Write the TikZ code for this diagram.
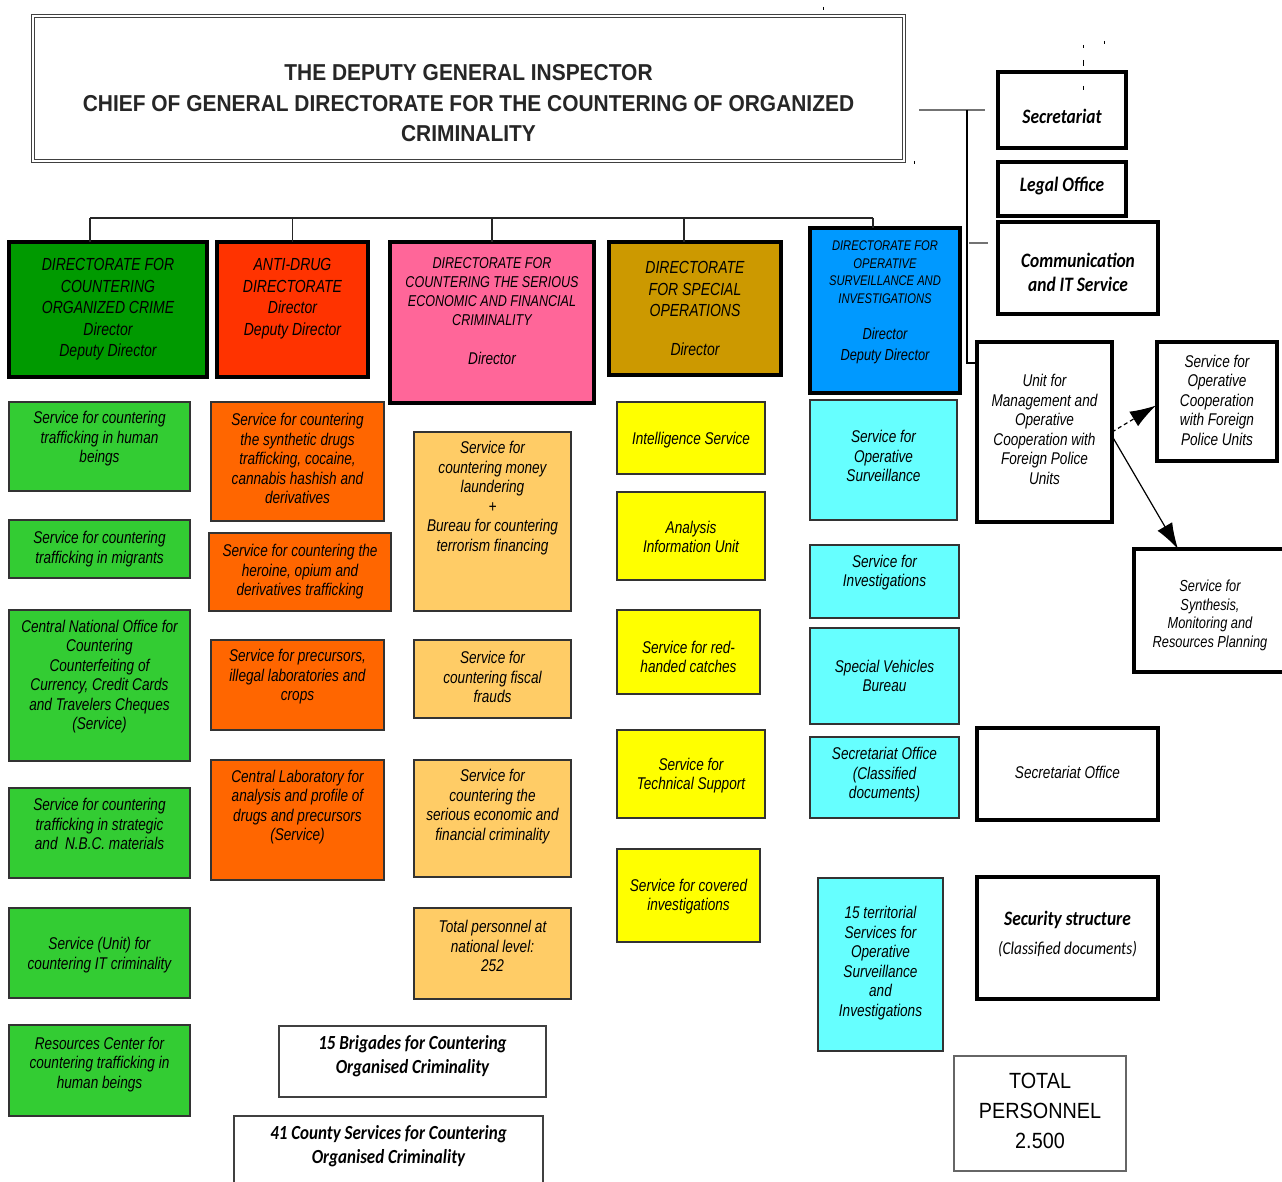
\documentclass[tikz,border=0pt]{standalone}
\usepackage{fontspec}
\setmainfont{Liberation Sans}
\newfontfamily\narf[FakeStretch=0.8]{Liberation Sans}
\newfontfamily\titf[FakeStretch=0.9]{Liberation Sans}
\newfontfamily\titbf[FakeStretch=0.91]{Liberation Sans}
\newfontfamily\calfont[FakeStretch=0.85]{Carlito}
\usetikzlibrary{arrows.meta}
\definecolor{cDG}{HTML}{009A00}
\definecolor{cR}{HTML}{FF3300}
\definecolor{cP}{HTML}{FF6699}
\definecolor{cGo}{HTML}{CC9900}
\definecolor{cB}{HTML}{0099FF}
\definecolor{cG}{HTML}{33CC33}
\definecolor{cO}{HTML}{FF6600}
\definecolor{cL}{HTML}{FFCC66}
\definecolor{cY}{HTML}{FFFF00}
\definecolor{cC}{HTML}{66FFFF}
\tikzset{
 ttl/.style={draw=black!75, double=white, double distance=2.5pt, line width=1pt, outer sep=0pt, inner sep=0pt},
 ttlt/.style={align=center, inner sep=0pt, text=black!85, font=\titbf\bfseries\fontsize{23}{30.5}\selectfont},
 dir/.style={draw=black, line width=4.5pt, outer sep=0pt, inner sep=0pt},
 dirt/.style={align=center, inner sep=0pt, font=\narf\itshape\fontsize{17.5}{21.5}\selectfont},
 dirp/.style={dir},
 dirpt/.style={align=center, inner sep=0pt, font=\narf\itshape\fontsize{15.7}{19}\selectfont},
 dirb/.style={dir},
 dirbt/.style={align=center, inner sep=0pt, font=\narf\itshape\fontsize{14}{17.5}\selectfont},
 svc/.style={draw=black!80, line width=1.5pt, outer sep=0pt, inner sep=0pt},
 svct/.style={align=center, inner sep=0pt, font=\narf\itshape\fontsize{17}{19.5}\selectfont},
 wb/.style={draw=black, line width=4.5pt, outer sep=0pt, inner sep=0pt},
 wbt/.style={align=center, inner sep=0pt, font=\calfont\bfseries\itshape\fontsize{20.5}{24}\selectfont},
 wu/.style={wb},
 wut/.style={svct},
 ws/.style={wb},
 wst/.style={align=center, inner sep=0pt, font=\narf\itshape\fontsize{16}{18.5}\selectfont},
 tb/.style={draw=black!60, line width=2pt, outer sep=0pt, inner sep=0pt},
 tbt/.style={align=center, inner sep=0pt, font=\titf\fontsize{22}{30}\selectfont},
 bb/.style={draw=black!75, line width=1.8pt, outer sep=0pt, inner sep=0pt},
 bbt/.style={align=center, inner sep=0pt, font=\calfont\bfseries\itshape\fontsize{20}{24}\selectfont},
 bus/.style={draw=black!85, line width=1.6pt},
 side/.style={draw=black!55, line width=2.6pt},
 thinl/.style={draw=black, line width=1.2pt},
 tipA/.tip={Latex[length=26pt,width=17pt]},
 arr/.style={draw=black, line width=1.2pt, -tipA},
}
% #1 style, #2 fill, #3 name, #4 x, #5 y, #6 w, #7 h, #8 text dy, #9 text
\newcommand\bx[9]{%
 \node[#1, fill=#2, minimum width=#6pt, minimum height=#7pt, anchor=north west] (#3) at (#4,#5) {};
 \node[#1t] (#3t) at ([yshift=#8pt]#3.center) {#9};}
\begin{document}
\begin{tikzpicture}[x=1pt,y=-1pt]
\useasboundingbox (0,0) rectangle (1282,1182);
\clip (0,0) rectangle (1282,1182);
\fill[white] (0,0) rectangle (1282,1182);

% title
\bx{ttl}{white}{title}{33}{16}{871}{145}{-15}{THE DEPUTY GENERAL INSPECTOR\\CHIEF OF GENERAL DIRECTORATE FOR THE COUNTERING OF ORGANIZED\\CRIMINALITY}

% directorates
\bx{dir}{cDG}{dA}{9}{242}{198}{135}{0}{DIRECTORATE FOR\\COUNTERING\\ORGANIZED CRIME\\Director\\Deputy Director}
\bx{dir}{cR}{dB}{217}{242}{151}{135}{11}{ANTI-DRUG\\DIRECTORATE\\Director\\Deputy Director}
\bx{dirp}{cP}{dC}{390}{242}{204}{161}{11}{DIRECTORATE FOR\\COUNTERING THE SERIOUS\\ECONOMIC AND FINANCIAL\\CRIMINALITY\\[20pt]{\fontsize{17}{19}\selectfont Director}}
\bx{dir}{cGo}{dD}{609}{242}{172}{133}{0}{DIRECTORATE\\FOR SPECIAL\\OPERATIONS\\[17pt]Director}
\bx{dirb}{cB}{dE}{810}{228}{150}{165}{8}{DIRECTORATE FOR\\OPERATIVE\\SURVEILLANCE AND\\INVESTIGATIONS\\[19pt]{\fontsize{16}{19}\selectfont Director}\\[3pt]{\fontsize{16}{19}\selectfont Deputy Director}}

% green services
\bx{svc}{cG}{g1}{9}{402}{181}{89}{7.5}{Service for countering\\trafficking in human\\beings}
\bx{svc}{cG}{g2}{9}{520}{181}{58}{0}{Service for countering\\trafficking in migrants}
\bx{svc}{cG}{g3}{9}{610}{181}{151}{9}{Central National Office for\\Countering\\Counterfeiting of\\Currency, Credit Cards\\and Travelers Cheques\\(Service)}
\bx{svc}{cG}{g4}{9}{788}{181}{90}{9}{Service for countering\\trafficking in strategic\\and \ N.B.C. materials}
\bx{svc}{cG}{g5}{9}{908}{181}{90}{-2}{Service (Unit) for\\countering IT criminality}
\bx{svc}{cG}{g6}{9}{1025}{181}{91}{6}{Resources Center for\\countering trafficking in\\human beings}

% orange services
\bx{svc}{cO}{o1}{211}{402}{173}{119}{3}{Service for countering\\the synthetic drugs\\trafficking, cocaine,\\cannabis hashish and\\derivatives}
\bx{svc}{cO}{o2}{209}{533}{182}{78}{0}{Service for countering the\\heroine, opium and\\derivatives trafficking}
\bx{svc}{cO}{o3}{211}{640}{173}{90}{8}{Service for precursors,\\illegal laboratories and\\crops}
\bx{svc}{cO}{o4}{211}{760}{173}{120}{13}{Central Laboratory for\\analysis and profile of\\drugs and precursors\\(Service)}

% light orange services
\bx{svc}{cL}{l1}{414}{432}{157}{179}{23.5}{Service for\\countering money\\laundering\\+\\Bureau for countering\\terrorism financing}
\bx{svc}{cL}{l2}{414}{640}{157}{78}{2}{Service for\\countering fiscal\\frauds}
\bx{svc}{cL}{l3}{414}{760}{157}{117}{12}{Service for\\countering the\\serious economic and\\financial criminality}
\bx{svc}{cL}{l4}{414}{908}{157}{91}{7.5}{Total personnel at\\national level:\\252}

% yellow services
\bx{svc}{cY}{y1}{617}{402}{148}{72}{-2}{Intelligence Service}
\bx{svc}{cY}{y2}{617}{492}{148}{88}{-1}{Analysis\\Information Unit}
\bx{svc}{cY}{y3}{617}{610}{143}{84}{-5}{Service for red-\\handed catches}
\bx{svc}{cY}{y4}{617}{730}{148}{88}{-1.5}{Service for\\Technical Support}
\bx{svc}{cY}{y5}{617}{849}{143}{93}{-1}{Service for covered\\investigations}

% cyan services
\bx{svc}{cC}{c1}{810}{400}{147}{120}{4}{Service for\\Operative\\Surveillance}
\bx{svc}{cC}{c2}{810}{545}{149}{73}{9}{Service for\\Investigations}
\bx{svc}{cC}{c3}{810}{628}{149}{96}{0}{Special Vehicles\\Bureau}
\bx{svc}{cC}{c4}{810}{737}{149}{81}{2.5}{Secretariat Office\\(Classified\\documents)}
\bx{svc}{cC}{c5}{818}{878}{125}{173}{1.5}{15 territorial\\Services for\\Operative\\Surveillance\\and\\Investigations}

% right white boxes
\bx{wb}{white}{sec}{998}{72}{128}{76}{-6}{Secretariat}
\bx{wb}{white}{leg}{998}{162}{128}{54}{3}{Legal Office}
\bx{wb}{white}{com}{998}{222}{160}{92}{-4.5}{Communication\\and IT Service}
\bx{wu}{white}{unit}{977}{342}{135}{180}{2.5}{Unit for\\Management and\\Operative\\Cooperation with\\Foreign Police\\Units}
\bx{wu}{white}{soc}{1157}{342}{120}{119}{1.5}{Service for\\Operative\\Cooperation\\with Foreign\\Police Units}
\bx{ws}{white}{syn}{1134}{549}{152}{123}{-5}{Service for\\Synthesis,\\Monitoring and\\Resources Planning}
\bx{wu}{white}{so}{977}{728}{181}{92}{2}{Secretariat Office}
\bx{wb}{white}{ss}{977}{877}{181}{122}{3.5}{Security structure\\[5pt]{\mdseries\fontsize{18}{20}\selectfont(Classified documents)}}
\bx{tb}{white}{tot}{954}{1056}{172}{115}{2.5}{TOTAL\\PERSONNEL\\2.500}

% bottom boxes
\bx{bb}{white}{br}{279}{1026}{267}{71}{5.5}{15 Brigades for Countering\\Organised Criminality}
\bx{bb}{white}{co}{234}{1116}{309}{80}{10}{41 County Services for Countering\\Organised Criminality}

% top bus
\coordinate (busL) at (90,218);
\coordinate (busR) at (873,218);
\draw[bus] (busL) -- (busR);
\draw[bus] (busL) -- (busL |- dA.north);
\draw[bus] (dB.north |- busL) -- (dB.north);
\draw[bus] (dC.north |- busL) -- (dC.north);
\draw[bus] ([xshift=-11pt]dD.north |- busL) -- ([xshift=-11pt]dD.north);
\draw[bus] (busR) -- (busR |- dE.north);

% side connectors
\coordinate (sL) at (919,110);
\coordinate (trunk) at (967,110);
\draw[side] (sL) -- ([xshift=-13pt]sec.west);
\draw[thinl] (trunk) |- ([yshift=-21pt]unit.north west);
\draw[side] ([xshift=-29pt,yshift=25pt]com.west) -- ([xshift=-10pt,yshift=25pt]com.west);

% arrows
\draw[arr, dash pattern=on 4pt off 3pt] (unit.east) -- ([xshift=-1pt,yshift=-4pt]soc.west);
\draw[arr] ([yshift=-4pt]unit.east) -- ([xshift=-32pt]syn.north);

% specks
\draw[line width=1pt] (1083,45)--(1083,48) (1083,60)--(1083,66) (1083,86)--(1083,90)
 (1104,41)--(1104,44) (823,7)--(823,10) (914,161)--(914,164);
\end{tikzpicture}
\end{document}
